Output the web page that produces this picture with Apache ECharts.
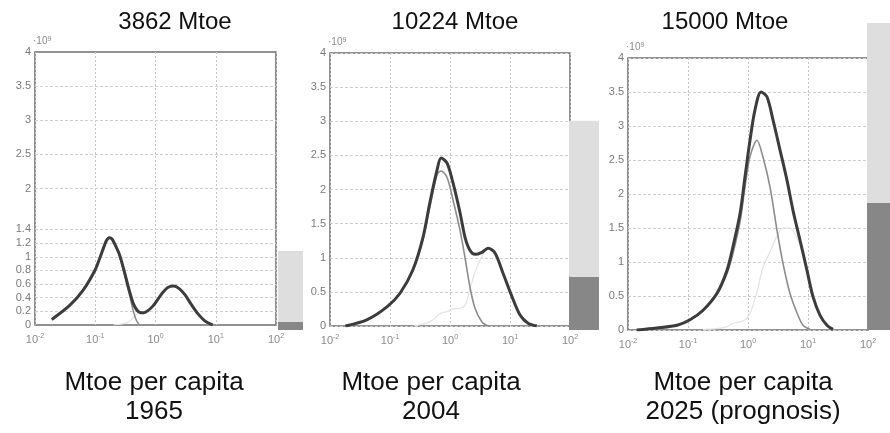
<!DOCTYPE html>
<html><head><meta charset="utf-8">
<script src="https://cdn.jsdelivr.net/npm/echarts@6/dist/echarts.min.js"></script>
<style>html,body{margin:0;padding:0;background:#fff}#c{width:890px;height:433px}</style>
</head><body><div id="c"></div>
<script>
// ---------- data ----------
const titles = ['3862 Mtoe', '10224 Mtoe', '15000 Mtoe'];
const xName = 'Mtoe per capita';
const years = ['1965', '2004', '2025 (prognosis)'];
const yUnit = '9';
const p1YTicks = [0, 0.2, 0.4, 0.6, 0.8, 1, 1.2, 1.4, 2, 2.5, 3, 3.5, 4];

// 1965
const p1TotalX = [0.019,0.038,0.063,0.1,0.12,0.137,0.152,0.17,0.19,0.215,0.25,0.288,0.33,0.38,0.43,0.49,0.56,0.64,0.75,0.91,1.1,1.3,1.6,2.0,2.5,3.1,4.0,5.0,6.6,8.9];
const p1TotalY = [0.08,0.29,0.51,0.81,0.99,1.13,1.23,1.28,1.26,1.17,1.04,0.86,0.66,0.46,0.31,0.22,0.18,0.18,0.21,0.28,0.38,0.47,0.55,0.57,0.53,0.44,0.29,0.17,0.06,0.0];
const p1LowX = [0.019,0.038,0.063,0.1,0.12,0.137,0.152,0.17,0.19,0.215,0.25,0.288,0.33,0.38,0.43,0.48,0.53];
const p1LowY = [0.08,0.29,0.51,0.81,0.99,1.13,1.23,1.28,1.26,1.17,1.03,0.84,0.62,0.4,0.2,0.07,0.01];
const p1HighX = [0.2,0.3,0.38,0.43,0.49,0.56,0.64,0.75,0.91,1.1,1.3,1.6,2.0,2.5,3.1,4.0,5.0,6.6,8.9];
const p1HighY = [0.0,0.02,0.06,0.11,0.16,0.18,0.18,0.21,0.28,0.38,0.47,0.55,0.57,0.53,0.44,0.29,0.17,0.06,0];

// 2004
const p2TotalX = [0.018,0.041,0.089,0.147,0.24,0.355,0.46,0.61,0.71,0.89,1.12,1.47,1.78,2.15,2.61,3.41,4.3,5.62,7.6,10.8,14.7,20,28];
const p2TotalY = [0,0.09,0.28,0.48,0.82,1.3,1.8,2.29,2.46,2.39,2.1,1.66,1.3,1.11,1.05,1.08,1.14,1.07,0.78,0.43,0.16,0.04,0];
const p2LowX = [0.018,0.041,0.089,0.147,0.24,0.355,0.46,0.61,0.71,0.89,1.12,1.47,1.78,2.15,2.61,3.41,4.3];
const p2LowY = [0,0.09,0.28,0.48,0.81,1.27,1.74,2.22,2.27,2.18,1.85,1.4,1.0,0.57,0.26,0.06,0];
const p2HighX = [0.25,0.46,0.71,0.89,1.12,1.47,1.78,2.15,2.61,3.41,4.3,5.62,7.6,10.8,14.7,20,28];
const p2HighY = [0,0.06,0.19,0.21,0.25,0.26,0.3,0.54,0.79,1.02,1.14,1.07,0.78,0.43,0.16,0.04,0];

// 2025
const p3TotalX = [0.014,0.030,0.066,0.108,0.178,0.304,0.447,0.56,0.74,0.89,1.08,1.31,1.65,2.07,2.61,3.41,4.47,5.62,7.36,9.6,12.1,15.8,20.7,26.1];
const p3TotalY = [0,0.03,0.07,0.15,0.29,0.54,0.88,1.22,1.72,2.25,2.79,3.24,3.5,3.43,3.09,2.65,2.2,1.76,1.32,0.88,0.49,0.22,0.07,0.01];
const p3LowX = [0.014,0.030,0.066,0.108,0.178,0.304,0.447,0.56,0.74,0.89,1.08,1.41,1.78,2.33,3.04,3.83,5.0,6.56,8.25,10.8];
const p3LowY = [0,0.03,0.07,0.15,0.28,0.52,0.83,1.12,1.6,2.1,2.55,2.79,2.54,2.1,1.47,0.98,0.54,0.25,0.07,0.01];
const p3HighX = [0.178,0.304,0.447,0.56,0.74,0.89,1.08,1.41,1.78,2.33,3.04,3.83,5.0,6.56,8.25,10.8,15.8,20.7,26.1];
const p3HighY = [0.01,0.02,0.05,0.1,0.12,0.15,0.24,0.56,0.92,1.15,1.38,1.5,1.5,1.35,1.12,0.72,0.22,0.07,0.01];

// energy bars (Mtoe)
const barTotals = [3862, 10224, 15000];
const barDark = [400, 2600, 6200];

// ---------- layout ----------
const panelGrids = [
  {left: 35, top: 52, width: 241, height: 273},
  {left: 330, top: 53, width: 240, height: 273},
  {left: 628, top: 58, width: 240, height: 272}
];
const barGrids = [
  {left: 278, top: 23, width: 25, height: 307},
  {left: 569, top: 23, width: 30, height: 307},
  {left: 867, top: 23, width: 23, height: 307}
];
const titleX = [175, 455, 725];
const bottomX = [154, 431, 743];

const panels = [
  {tx: p1TotalX, ty: p1TotalY, lx: p1LowX, ly: p1LowY, hx: p1HighX, hy: p1HighY},
  {tx: p2TotalX, ty: p2TotalY, lx: p2LowX, ly: p2LowY, hx: p2HighX, hy: p2HighY},
  {tx: p3TotalX, ty: p3TotalY, lx: p3LowX, ly: p3LowY, hx: p3HighX, hy: p3HighY}
];
const pairs = (xs, ys) => xs.map((x, i) => [x, ys[i]]);

const FONT = 'Liberation Sans, Arial, sans-serif';
const grid = [], xAxis = [], yAxis = [], series = [];

panels.forEach((p, i) => {
  grid.push(Object.assign({show: true, borderColor: '#6e6e6e', borderWidth: 1.5, backgroundColor: '#fff'}, panelGrids[i]));
  xAxis.push({
    type: 'log', logBase: 10, min: 0.01, max: 100, gridIndex: i,
    axisLine: {show: false}, axisTick: {show: false},
    splitLine: {show: true, lineStyle: {color: '#c4c4c4', type: [2, 2], width: 1}},
    axisLabel: {
      color: '#8a8a8a', fontSize: 11, fontFamily: FONT, margin: 8,
      formatter: v => '10{s|' + Math.round(Math.log10(v)) + '}',
      rich: {s: {fontSize: 7, color: '#8a8a8a', padding: [0, 0, 7, 0]}}
    }
  });
  const isP1 = i === 0;
  yAxis.push({
    type: 'value', min: 0, max: 4, interval: isP1 ? 0.1 : 0.5, gridIndex: i,
    axisLine: {show: false}, axisTick: {show: false},
    splitLine: {show: !isP1, lineStyle: {color: '#cfcfcf', type: [3, 2], width: 1}},
    name: '·10{s|' + yUnit + '}', nameLocation: 'end', nameGap: 2,
    nameTextStyle: {color: '#8a8a8a', fontSize: 10, fontFamily: FONT, align: 'left', padding: [0, 0, 0, -2],
      rich: {s: {fontSize: 7, color: '#8a8a8a', padding: [0, 0, 6, 0]}}},
    axisLabel: {
      color: '#7a7a7a', fontSize: 11, fontFamily: FONT, margin: 4,
      formatter: v => {
        if (!isP1) return String(v);
        const hit = p1YTicks.find(t => Math.abs(t - v) < 1e-6);
        return hit === undefined ? '' : String(hit);
      }
    }
  });
  series.push({
    type: 'line', xAxisIndex: i, yAxisIndex: i, smooth: 0.3, symbol: 'none', z: 3,
    data: pairs(p.hx, p.hy), lineStyle: {color: '#e3e3e3', width: 1.2}
  });
  series.push({
    type: 'line', xAxisIndex: i, yAxisIndex: i, smooth: 0.3, symbol: 'none', z: 4,
    data: pairs(p.lx, p.ly), lineStyle: {color: '#8c8c8c', width: 1.6}
  });
  const total = {
    type: 'line', xAxisIndex: i, yAxisIndex: i, smooth: 0.3, symbol: 'none', z: 5,
    data: pairs(p.tx, p.ty), lineStyle: {color: '#3c3c3c', width: 3}
  };
  if (isP1) {
    total.markLine = {
      silent: true, symbol: 'none', label: {show: false}, z: 1,
      lineStyle: {color: '#cfcfcf', type: [3, 2], width: 1},
      data: p1YTicks.filter(t => t > 0 && t < 4).map(t => ({yAxis: t}))
    };
  }
  series.push(total);
});

barTotals.forEach((t, i) => {
  const gi = 3 + i;
  grid.push(Object.assign({show: false}, barGrids[i]));
  xAxis.push({type: 'category', data: [''], gridIndex: gi, show: false});
  yAxis.push({type: 'value', min: 0, max: 15000, gridIndex: gi, show: false});
  series.push({type: 'bar', stack: 'e' + i, xAxisIndex: gi, yAxisIndex: gi, barWidth: '100%',
    data: [barDark[i]], itemStyle: {color: '#878787'}});
  series.push({type: 'bar', stack: 'e' + i, xAxisIndex: gi, yAxisIndex: gi, barWidth: '100%',
    data: [t - barDark[i]], itemStyle: {color: '#dedede'}});
});

const graphic = [];
titles.forEach((t, i) => {
  graphic.push({type: 'text', x: titleX[i], y: 22, style: {text: t, font: '24px ' + FONT, fill: '#111', align: 'center', verticalAlign: 'middle'}});
  graphic.push({type: 'text', x: bottomX[i], y: 383, style: {text: xName, font: '26px ' + FONT, fill: '#111', align: 'center', verticalAlign: 'middle'}});
  graphic.push({type: 'text', x: bottomX[i], y: 412, style: {text: years[i], font: '26px ' + FONT, fill: '#111', align: 'center', verticalAlign: 'middle'}});
});

const chart = echarts.init(document.getElementById('c'));
chart.setOption({backgroundColor: '#fff', animation: false, grid, xAxis, yAxis, series, graphic});
</script></body></html>
